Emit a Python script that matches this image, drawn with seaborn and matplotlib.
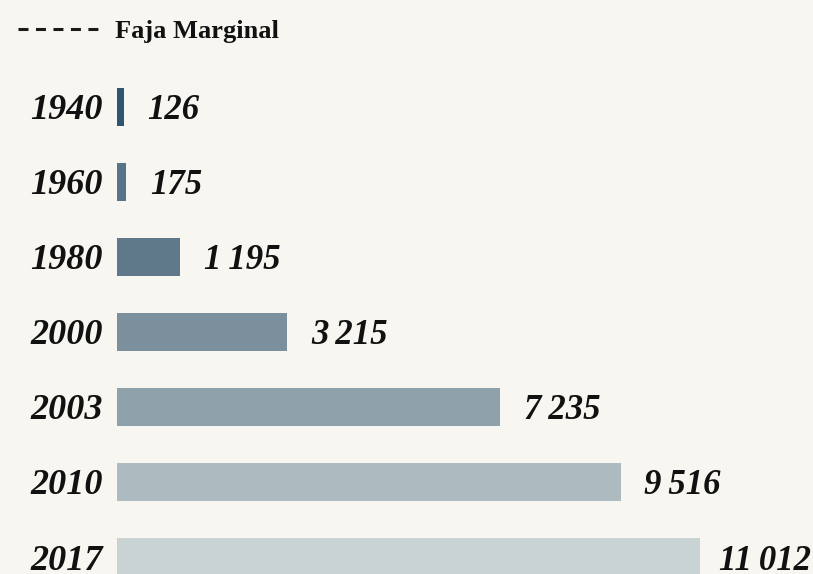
import matplotlib
matplotlib.use("Agg")
import matplotlib.pyplot as plt
from matplotlib.lines import Line2D
import seaborn as sns

# data
years = ["1940", "1960", "1980", "2000", "2003", "2010", "2017"]
values = [126, 175, 1195, 3215, 7235, 9516, 11012]
labels = ["126", "175", "1\u2009195", "3\u2009215", "7\u2009235", "9\u2009516", "11\u2009012"]
colors = ["#2e5670", "#56758b", "#5f788a", "#7b909c", "#8fa1aa", "#adbbc0", "#c9d3d3"]

BG = "#f7f6f0"
W, H = 813, 574

sns.set_style("white")
plt.rcParams["font.family"] = ["Liberation Serif", "DejaVu Serif"]

fig = plt.figure(figsize=(W / 100, H / 100), dpi=100, facecolor=BG)
ax = fig.add_axes([117 / W, 0, 1 - 117 / W, 1])
ax.set_facecolor(BG)

sns.barplot(x=values, y=years, hue=years, palette=colors, legend=False,
            orient="h", width=0.5, ax=ax, saturation=1, linewidth=0)

px_per_unit = 583 / 11012
ax.set_xlim(0, (W - 117) / px_per_unit)
ax.set_ylim((H - 107) / 75, -107 / 75)

for i, (v, lab) in enumerate(zip(values, labels)):
    off = 14 if v > 10000 else 17
    ax.annotate(lab, xy=(v, i), xytext=(off, 0), textcoords="offset points",
                ha="left", va="center_baseline", fontsize=25, fontweight="bold",
                fontstyle="italic", color="#111111")

ax.set_xticks([])
ax.set_xlabel("")
ax.set_ylabel("")
ax.tick_params(axis="y", length=0, pad=10)
for t in ax.get_yticklabels():
    t.set_fontsize(26)
    t.set_fontweight("bold")
    t.set_fontstyle("italic")
    t.set_color("#111111")
sns.despine(ax=ax, left=True, bottom=True)

# legend at the top: five dashes then the label
fig.add_artist(Line2D([18 / W, 98 / W], [1 - 29 / H] * 2, color="#1a1a1a",
                      lw=2.2, ls=(0, (3.27, 2.45)), dash_capstyle="butt"))
fig.text(115 / W, 1 - 29 / H, "Faja Marginal", ha="left", va="center_baseline",
         fontsize=19, fontweight="bold", color="#111111")

fig.savefig("out.png", dpi=100, facecolor=BG)
